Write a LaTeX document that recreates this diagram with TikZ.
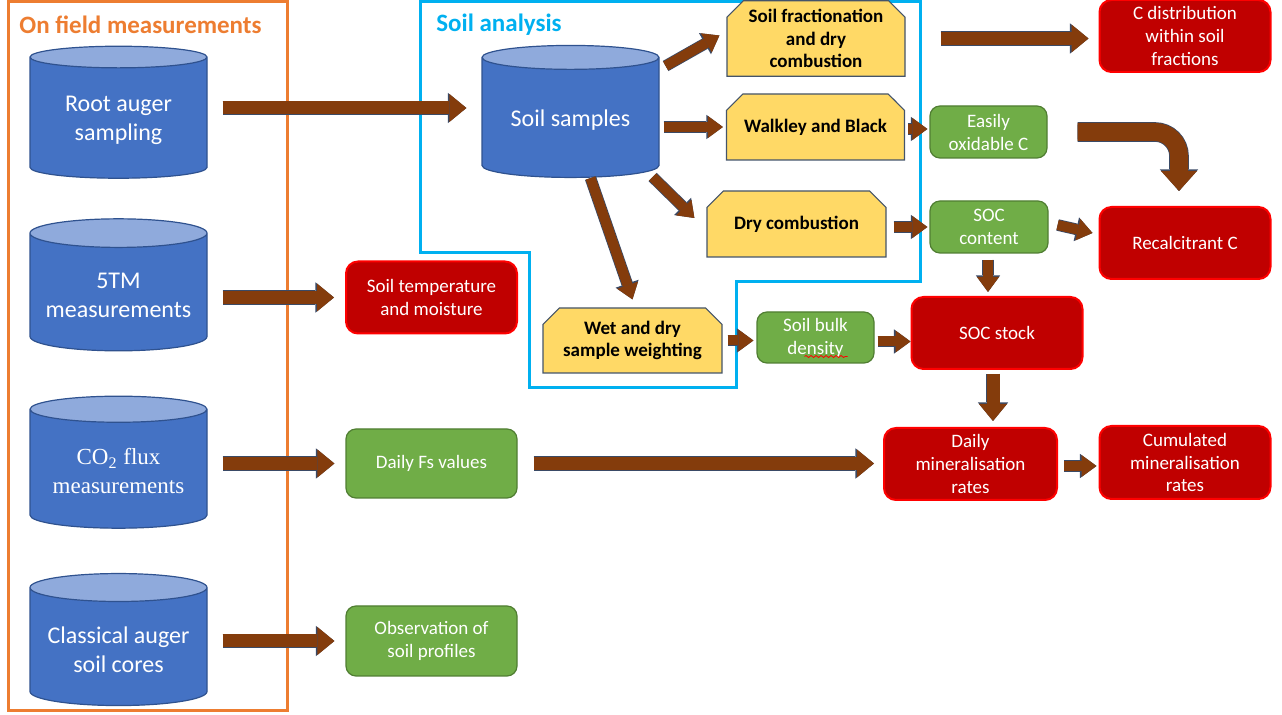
\documentclass[tikz,border=0pt]{standalone}
\usepackage{fontspec}
\setmainfont{Carlito}
\newfontfamily\timesfont{Liberation Serif}
\usetikzlibrary{shapes.geometric, shapes.misc, arrows.meta, positioning, calc, decorations.pathmorphing}

\definecolor{fieldorange}{HTML}{ED7D31}
\definecolor{labcyan}{HTML}{00B0F0}
\definecolor{cylbody}{HTML}{4472C4}
\definecolor{cyltop}{HTML}{8FAADC}
\definecolor{cylline}{HTML}{2F528F}
\definecolor{methodfill}{HTML}{FFD966}
\definecolor{methodline}{HTML}{44546A}
\definecolor{datafill}{HTML}{70AD47}
\definecolor{dataline}{HTML}{507E32}
\definecolor{resultfill}{HTML}{C00000}
\definecolor{resultline}{HTML}{FF0000}
\definecolor{arrowfill}{HTML}{843C0C}
\definecolor{arrowline}{HTML}{3A4A66}

\begin{document}
\begin{tikzpicture}[
        x=0.5pt, y=-0.5pt,
        device/.style={cylinder, shape border rotate=90, aspect=0.18, draw=cylline, line width=0.6pt,
            cylinder uses custom fill, cylinder body fill=cylbody, cylinder end fill=cyltop,
            minimum width=88.5pt, minimum height=66pt, text=white, align=center,
            font=\fontsize{12}{14.5}\selectfont},
        method/.style={chamfered rectangle, chamfered rectangle corners={north west,north east},
            chamfered rectangle xsep=5pt, draw=methodline, line width=0.6pt, fill=methodfill,
            minimum width=89pt, minimum height=33pt, align=center, inner sep=1pt,
            font=\bfseries\fontsize{9.5}{11.3}\selectfont},
        data/.style={rectangle, rounded corners=5pt, draw=dataline, line width=0.6pt, fill=datafill,
            text=white, align=center, inner sep=1pt, font=\fontsize{9.5}{11.5}\selectfont},
        result/.style={rectangle, rounded corners=6pt, draw=resultline, line width=1pt, fill=resultfill,
            text=white, align=center, inner sep=1pt, minimum width=85.5pt, minimum height=36pt,
            font=\fontsize{9.5}{11.3}\selectfont},
        title/.style={anchor=west, inner sep=0pt, font=\bfseries\fontsize{12.5}{14}\selectfont},
        blk/.style={draw=arrowfill, line width=6.5pt,
            -{Triangle[width=14pt,length=8.5pt,line width=0pt]},
            preaction={draw=arrowline, line width=7.3pt, -{Triangle[width=15.2pt,length=9.3pt,line width=0pt]}}},
        thinblk/.style={draw=arrowfill, line width=5pt,
            -{Triangle[width=11pt,length=7.5pt,line width=0pt]},
            preaction={draw=arrowline, line width=5.8pt, -{Triangle[width=12.2pt,length=8.3pt,line width=0pt]}}}
    ]
    \useasboundingbox (0,0) rectangle (1282,715);

    % Frames
    \draw[fieldorange, line width=1.5pt] (8,2) rectangle (287,711);
    \draw[labcyan, line width=1.5pt] (420,2) -- (920,2) -- (920,282) -- (736,282) -- (736,388)
        -- (529,388) -- (529,253) -- (420,253) -- cycle;
    \node[title, text=fieldorange] (fieldtitle) at (19,25) {On field measurements};
    \node[title, text=labcyan] (labtitle) at (436,25) {Soil analysis};

    % On field measurements
    \node[device] (root) at (118.5,120) {Root auger\\sampling};
    \node[device] (tm) at (118.5,295) {5TM\\measurements};
    \node[device, font=\timesfont\fontsize{11.5}{14.5}\selectfont] (co2) at (118.5,471.5)
        {CO\textsubscript{2} flux\\measurements};
    \node[device] (classic) at (118.5,649.5) {Classical auger\\soil cores};

    \node[result] (temp) at (431.5,297.5) {Soil temperature\\and moisture};
    \node[data, minimum width=85.5pt, minimum height=34.5pt] (fs) at (431.5,463.5) {Daily Fs values};
    \node[data, minimum width=85.5pt, minimum height=35pt] (obs) at (431.5,641) {Observation of\\soil profiles};

    % Soil analysis
    \node[device] (soil) at (570.5,120) {Soil samples};
    \node[method] (frac) at (816,38.5) {Soil fractionation\\and dry\\combustion};
    \node[method] (walk) at (815.5,127) {Walkley and Black};
    \node[method, minimum width=89.5pt] (dry) at (796.5,224) {Dry combustion};
    \node[method, minimum width=89.5pt, minimum height=32.5pt] (wet) at (632.5,340.5) {Wet and dry\\sample weighting};

    % Derived values
    \node[data, minimum width=58.5pt, minimum height=26pt] (easy) at (988.5,132) {Easily\\oxidable C};
    \node[data, minimum width=59pt, minimum height=26pt] (soc) at (989,227) {SOC\\content};
    \node[data, minimum width=58.5pt, minimum height=25.5pt] (bulk) at (815.5,337.5) {Soil bulk\\density};
    \draw[resultline, line width=0.4pt, decorate, decoration={snake, amplitude=0.5pt, segment length=2.5pt}]
        ([shift={(-11,19)}]bulk.center) -- ([shift={(32,19)}]bulk.center);

    \node[result] (cdist) at (1185,36) {C distribution\\within soil\\fractions};
    \node[result] (recal) at (1185,243) {Recalcitrant C};
    \node[result] (stock) at (997,333) {SOC stock};
    \node[result, minimum width=86.5pt] (daily) at (970.5,464) {Daily\\mineralisation\\rates};
    \node[result, minimum height=36.5pt] (cum) at (1185,462.5) {Cumulated\\mineralisation\\rates};

    % Arrows
    \draw[blk, shorten <=7.5pt, shorten >=7.5pt] ([yshift=6pt]root.east |- soil.west) -- ([yshift=6pt]soil.west);
    \draw[blk, shorten <=7.5pt, shorten >=5.5pt] (tm.east |- temp.west) -- (temp.west);
    \draw[blk, shorten <=7.5pt, shorten >=5.5pt] (co2.east |- fs.west) -- (fs.west);
    \draw[blk, shorten <=7.5pt, shorten >=5.5pt] (classic.east |- obs.west) -- (obs.west);

    \draw[thinblk] ([shift={(6,-54)}]soil.east) -- ([shift={(-7,-3)}]frac.west);
    \draw[thinblk, shorten <=2pt, shorten >=1.5pt] (soil.east |- walk.west) -- (walk.west);
    \draw[thinblk] ([shift={(-7,57)}]soil.east) -- ([shift={(-12,-6)}]dry.west);
    \draw[thinblk] ([shift={(20,0)}]soil.south) -- ([shift={(0,-8)}]wet.north);

    \draw[blk, shorten <=17.5pt, shorten >=5pt] (frac.east) -- (frac.east -| cdist.west);
    \draw[thinblk, shorten <=1.5pt, shorten >=1pt] ([yshift=-1pt]walk.east) -- ([yshift=-1pt]walk.east -| easy.west);
    \draw[thinblk, shorten <=3.5pt, shorten >=1pt] (dry.east |- soc.west) -- (soc.west);
    \draw[thinblk] ([shift={(9,-2)}]soc.east) -- ([shift={(-6,-10)}]recal.west);
    \draw[thinblk, shorten <=3pt, shorten >=2pt] ([xshift=-0.5pt]soc.south) -- ([xshift=-0.5pt]soc.south |- stock.north);
    \draw[thinblk, shorten <=2.5pt, shorten >=1.5pt] (wet.east) -- (wet.east -| bulk.west);
    \draw[thinblk, shorten <=1.5pt] ([yshift=-2pt]bulk.east) -- ([yshift=-2pt]bulk.east -| stock.west);
    \draw[blk, shorten <=2pt, shorten >=3pt] ([xshift=-2pt]stock.south) -- ([xshift=-2pt]stock.south |- daily.north);
    \draw[blk, shorten <=8pt, shorten >=4.5pt] (fs.east) -- (fs.east -| daily.west);
    \draw[thinblk, shorten <=3pt, shorten >=1pt] ([yshift=-1pt]daily.east) -- ([yshift=-1pt]daily.east -| cum.west);

    \draw[blk, line width=9pt, rounded corners=12pt, shorten <=15pt, shorten >=7.5pt,
        -{Triangle[width=18pt,length=10pt,line width=0pt]},
        preaction={draw=arrowline, line width=9.8pt, -{Triangle[width=19.2pt,length=10.8pt,line width=0pt]}}]
        (easy.east) -| ([xshift=-3pt]recal.north);

\end{tikzpicture}
\end{document}
